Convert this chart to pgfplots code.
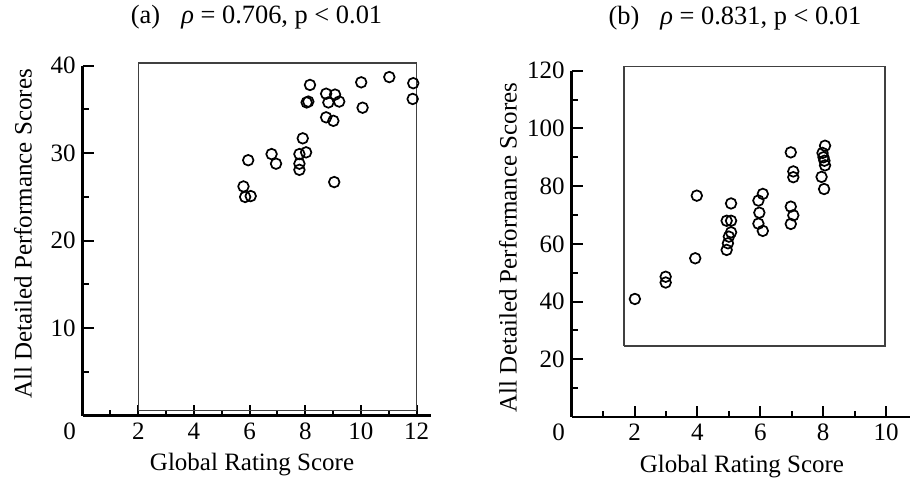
\documentclass[border=0pt]{standalone}
\usepackage{pgfplots}
\pgfplotsset{compat=1.18}
\usepackage{fontspec}
\setmainfont{Liberation Serif}
\begin{document}
\begin{tikzpicture}
\pgfplotsset{
  panel/.style={
    scale only axis,
    axis x line=bottom, axis y line=left,
    axis line style={-, line width=1.35pt, black},
    tick align=inside,
    major tick length=5.5pt, minor tick length=3pt,
    every tick/.style={black, line width=1pt},
    clip=false,
    font=\fontsize{12.5}{15}\selectfont,
    tick label style={font=\fontsize{12.5}{15}\selectfont},
    /pgf/number format/assume math mode=true,
    extra x ticks={0}, extra x tick labels={0},
    extra x tick style={major tick length=0pt, tick label style={xshift=-6.5pt}},
  },
  boxline/.style={no marks, line width=0.75pt, color=black!75},
  pts/.style={only marks, mark=o, mark size=2.65pt, mark options={line width=0.85pt, black}},
}
% Panel (a)
\begin{axis}[panel,
  at={(41.3pt,31.15pt)}, anchor=origin,
  width=173.95pt, height=175pt,
  xmin=0, xmax=12.5, ymin=0, ymax=40,
  xtick={2,4,...,12}, minor xtick={1,3,...,11},
  ytick={10,20,30,40}, minor ytick={5,15,25,35},
  xlabel={Global Rating Score},
  xlabel style={at={(axis description cs:0.487,0)}, anchor=base, yshift=-27.15pt},
  ylabel={All Detailed Performance Scores},
  ylabel style={at={(axis description cs:0,0.519)}, anchor=center, yshift=29.8pt},
  title={(a)\hspace{0.8em}{\itshape ρ} = 0.706, p < 0.01},
  title style={at={(axis description cs:0.5,1)}, anchor=base, yshift=14.85pt, font=\fontsize{13.2}{15}\selectfont},
]
\addplot[boxline] coordinates {(2,0.6) (12,0.6) (12,40.3) (2,40.3) (2,0.6)};
\addplot[pts] coordinates {
(8.17,37.8) (8.11,35.9) (8.05,35.8) (8.75,36.8) (9.07,36.7) (8.83,35.8)
(9.22,35.9) (10.01,38.1) (11.02,38.7) (11.88,38.0) (11.86,36.2) (10.06,35.2)
(8.75,34.1) (9.01,33.7) (7.91,31.7) (8.03,30.1) (7.79,29.9) (7.79,28.8)
(7.79,28.1) (6.79,29.9) (6.95,28.8) (5.95,29.2) (5.78,26.2) (5.84,25.0)
(6.04,25.1) (9.04,26.7)
};
\end{axis}
% Panel (b)
\begin{axis}[panel,
  at={(285.85pt,30.5pt)}, anchor=origin,
  width=168.94pt, height=173.15pt,
  xmin=0, xmax=10.75, ymin=0, ymax=120,
  xtick={2,4,...,10}, minor xtick={1,3,...,9},
  ytick={20,40,...,120}, minor ytick={10,30,...,110},
  xlabel={Global Rating Score},
  xlabel style={at={(axis description cs:0.504,0)}, anchor=base, yshift=-27.5pt},
  ylabel={All Detailed Performance Scores},
  ylabel style={at={(axis description cs:0,0.49)}, anchor=center, yshift=31.85pt},
  title={(b)\hspace{0.8em}{\itshape ρ} = 0.831, p < 0.01},
  title style={at={(axis description cs:0.483,1)}, anchor=base, yshift=17.35pt, font=\fontsize{13.2}{15}\selectfont},
]
\addplot[boxline] coordinates {(1.67,24.6) (9.97,24.6) (9.97,121.4) (1.67,121.4) (1.67,24.6)};
\addplot[pts] coordinates {
(2.01,40.9) (2.99,48.6) (2.99,46.6) (3.93,55.0) (3.98,76.7)
(4.93,57.9) (4.97,60.2) (5.0,62.5) (5.07,64.0) (4.93,68.0) (5.07,68.0) (5.07,74.0)
(5.94,75.0) (6.08,77.3) (5.97,70.8) (5.94,67.0) (6.08,64.5)
(6.97,91.7) (7.05,85.1) (7.05,83.1) (6.97,72.9) (7.05,69.9) (6.97,66.9)
(8.06,94.0) (7.98,91.5) (8.01,90.0) (8.04,88.8) (8.06,87.2) (7.95,83.2) (8.03,79.0)
};
\end{axis}
\pgfresetboundingbox
\path[use as bounding box] (0,0) rectangle (455pt,239pt);
\end{tikzpicture}
\end{document}
